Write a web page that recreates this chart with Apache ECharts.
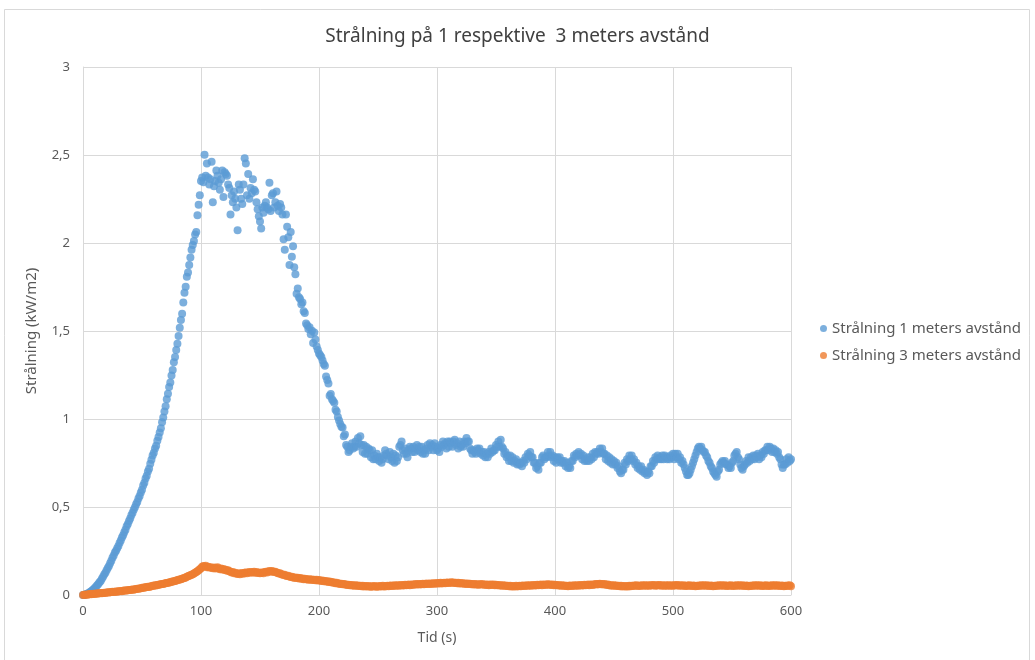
<!DOCTYPE html>
<html>
<head>
<meta charset="utf-8">
<script src="https://cdn.jsdelivr.net/npm/echarts@6/dist/echarts.min.js"></script>
<style>
  html, body { margin: 0; padding: 0; background: #ffffff; }
  #chart { width: 1035px; height: 660px; }
</style>
</head>
<body>
<div id="chart"></div>
<script>
// Radiation (kW/m2) sampled once per second, t = 0 .. 600 s
const timeStep = 1;

const straining1m = [
  0, 0, 0.003, 0.005, 0.009, 0.012, 0.017, 0.021, 0.027, 0.032,
  0.04, 0.047, 0.056, 0.063, 0.073, 0.08, 0.093, 0.103, 0.117, 0.127,
  0.14, 0.153, 0.165, 0.181, 0.194, 0.211, 0.224, 0.241, 0.251, 0.266,
  0.279, 0.296, 0.309, 0.326, 0.339, 0.356, 0.371, 0.391, 0.404, 0.421,
  0.434, 0.453, 0.467, 0.485, 0.499, 0.516, 0.529, 0.549, 0.563, 0.582,
  0.598, 0.622, 0.638, 0.662, 0.678, 0.702, 0.718, 0.746, 0.768, 0.792,
  0.808, 0.832, 0.848, 0.877, 0.898, 0.923, 0.948, 0.982, 1.008, 1.042,
  1.073, 1.112, 1.143, 1.182, 1.208, 1.247, 1.278, 1.322, 1.352, 1.392,
  1.428, 1.472, 1.518, 1.562, 1.598, 1.662, 1.718, 1.752, 1.808, 1.832,
  1.875, 1.918, 1.962, 1.988, 2.012, 2.048, 2.062, 2.158, 2.218, 2.272,
  2.352, 2.372, 2.345, 2.502, 2.382, 2.452, 2.372, 2.332, 2.362, 2.462,
  2.232, 2.322, 2.352, 2.412, 2.382, 2.342, 2.302, 2.362, 2.412, 2.262,
  2.402, 2.392, 2.382, 2.332, 2.312, 2.162, 2.272, 2.232, 2.292, 2.252,
  2.202, 2.072, 2.332, 2.302, 2.252, 2.222, 2.332, 2.482, 2.452, 2.272,
  2.392, 2.252, 2.312, 2.282, 2.362, 2.302, 2.292, 2.232, 2.192, 2.152,
  2.122, 2.082, 2.202, 2.172, 2.212, 2.232, 2.202, 2.192, 2.342, 2.182,
  2.272, 2.282, 2.202, 2.232, 2.292, 2.212, 2.182, 2.222, 2.202, 2.162,
  2.022, 1.962, 2.162, 2.092, 2.032, 1.875, 2.062, 1.922, 1.982, 1.862,
  1.822, 1.712, 1.742, 1.692, 1.682, 1.652, 1.662, 1.612, 1.602, 1.542,
  1.532, 1.512, 1.522, 1.482, 1.502, 1.432, 1.492, 1.452, 1.412, 1.392,
  1.372, 1.362, 1.352, 1.332, 1.312, 1.302, 1.242, 1.222, 1.202, 1.132,
  1.142, 1.112, 1.102, 1.092, 1.052, 1.042, 1.012, 0.992, 0.972, 0.956,
  0.952, 0.902, 0.912, 0.852, 0.842, 0.812, 0.822, 0.842, 0.862, 0.832,
  0.842, 0.872, 0.842, 0.892, 0.862, 0.902, 0.852, 0.812, 0.852, 0.802,
  0.842, 0.802, 0.832, 0.822, 0.782, 0.822, 0.772, 0.792, 0.772, 0.802,
  0.782, 0.762, 0.782, 0.752, 0.772, 0.792, 0.822, 0.802, 0.792, 0.772,
  0.812, 0.782, 0.762, 0.802, 0.752, 0.792, 0.762, 0.782, 0.842, 0.852,
  0.872, 0.822, 0.802, 0.832, 0.802, 0.782, 0.822, 0.842, 0.832, 0.812,
  0.842, 0.812, 0.832, 0.852, 0.822, 0.842, 0.812, 0.842, 0.802, 0.822,
  0.802, 0.832, 0.852, 0.822, 0.862, 0.842, 0.852, 0.822, 0.862, 0.842,
  0.822, 0.832, 0.812, 0.852, 0.842, 0.872, 0.852, 0.862, 0.832, 0.872,
  0.842, 0.872, 0.862, 0.842, 0.872, 0.882, 0.852, 0.862, 0.832, 0.872,
  0.842, 0.852, 0.842, 0.872, 0.862, 0.892, 0.872, 0.872, 0.832, 0.822,
  0.802, 0.822, 0.812, 0.802, 0.832, 0.822, 0.832, 0.802, 0.812, 0.792,
  0.812, 0.782, 0.802, 0.782, 0.812, 0.802, 0.832, 0.812, 0.822, 0.822,
  0.852, 0.842, 0.872, 0.842, 0.882, 0.842, 0.832, 0.802, 0.812, 0.782,
  0.792, 0.762, 0.792, 0.762, 0.782, 0.752, 0.762, 0.772, 0.742, 0.752,
  0.742, 0.752, 0.732, 0.762, 0.752, 0.782, 0.772, 0.802, 0.792, 0.812,
  0.782, 0.782, 0.752, 0.752, 0.722, 0.732, 0.712, 0.752, 0.752, 0.782,
  0.792, 0.772, 0.782, 0.782, 0.812, 0.792, 0.812, 0.782, 0.792, 0.762,
  0.782, 0.752, 0.782, 0.772, 0.782, 0.752, 0.762, 0.752, 0.762, 0.732,
  0.752, 0.722, 0.732, 0.722, 0.762, 0.762, 0.792, 0.782, 0.802, 0.792,
  0.812, 0.792, 0.802, 0.772, 0.792, 0.762, 0.772, 0.762, 0.782, 0.762,
  0.782, 0.772, 0.802, 0.782, 0.812, 0.802, 0.812, 0.802, 0.832, 0.812,
  0.832, 0.802, 0.802, 0.772, 0.792, 0.762, 0.782, 0.752, 0.772, 0.742,
  0.762, 0.742, 0.752, 0.722, 0.732, 0.702, 0.692, 0.712, 0.712, 0.752,
  0.742, 0.772, 0.762, 0.792, 0.772, 0.792, 0.762, 0.772, 0.742, 0.752,
  0.722, 0.732, 0.712, 0.732, 0.702, 0.712, 0.692, 0.702, 0.682, 0.702,
  0.692, 0.732, 0.732, 0.762, 0.752, 0.782, 0.772, 0.792, 0.772, 0.782,
  0.772, 0.792, 0.772, 0.792, 0.782, 0.772, 0.782, 0.772, 0.792, 0.782,
  0.802, 0.772, 0.802, 0.782, 0.802, 0.772, 0.782, 0.752, 0.762, 0.742,
  0.722, 0.702, 0.682, 0.682, 0.692, 0.712, 0.732, 0.752, 0.772, 0.792,
  0.812, 0.832, 0.842, 0.832, 0.842, 0.822, 0.812, 0.812, 0.792, 0.782,
  0.762, 0.752, 0.732, 0.722, 0.702, 0.692, 0.682, 0.672, 0.702, 0.712,
  0.742, 0.752, 0.762, 0.752, 0.762, 0.742, 0.742, 0.722, 0.732, 0.722,
  0.752, 0.762, 0.792, 0.802, 0.812, 0.782, 0.772, 0.742, 0.722, 0.712,
  0.732, 0.742, 0.762, 0.752, 0.782, 0.762, 0.782, 0.772, 0.792, 0.772,
  0.792, 0.782, 0.802, 0.772, 0.792, 0.782, 0.812, 0.802, 0.822, 0.822,
  0.842, 0.822, 0.842, 0.832, 0.812, 0.832, 0.812, 0.822, 0.802, 0.812,
  0.782, 0.772, 0.742, 0.722, 0.742, 0.742, 0.772, 0.752, 0.782, 0.762,
  0.772
];

const straining3m = [
  0.000, 0.002, 0.001, 0.003, 0.002, 0.004, 0.005, 0.004, 0.006, 0.007,
  0.006, 0.008, 0.009, 0.008, 0.010, 0.011, 0.010, 0.012, 0.013, 0.012,
  0.014, 0.015, 0.014, 0.016, 0.017, 0.018, 0.017, 0.019, 0.020, 0.019,
  0.021, 0.022, 0.023, 0.022, 0.024, 0.025, 0.026, 0.025, 0.027, 0.028,
  0.029, 0.030, 0.031, 0.030, 0.033, 0.034, 0.035, 0.036, 0.037, 0.039,
  0.040, 0.042, 0.041, 0.044, 0.045, 0.047, 0.046, 0.049, 0.050, 0.052,
  0.053, 0.055, 0.054, 0.057, 0.058, 0.060, 0.061, 0.063, 0.062, 0.065,
  0.067, 0.068, 0.070, 0.071, 0.073, 0.075, 0.076, 0.078, 0.080, 0.082,
  0.084, 0.086, 0.088, 0.090, 0.093, 0.095, 0.097, 0.100, 0.103, 0.106,
  0.109, 0.112, 0.115, 0.118, 0.122, 0.126, 0.130, 0.135, 0.140, 0.146,
  0.152, 0.160, 0.165, 0.162, 0.166, 0.158, 0.161, 0.156, 0.158, 0.155,
  0.152, 0.156, 0.150, 0.154, 0.158, 0.151, 0.147, 0.150, 0.145, 0.148,
  0.142, 0.144, 0.138, 0.140, 0.135, 0.132, 0.128, 0.130, 0.124, 0.126,
  0.122, 0.120, 0.124, 0.118, 0.122, 0.125, 0.121, 0.126, 0.128, 0.124,
  0.128, 0.130, 0.126, 0.131, 0.128, 0.132, 0.127, 0.130, 0.125, 0.128,
  0.124, 0.126, 0.128, 0.124, 0.130, 0.132, 0.128, 0.134, 0.136, 0.132,
  0.136, 0.134, 0.130, 0.132, 0.128, 0.125, 0.122, 0.124, 0.118, 0.116,
  0.113, 0.115, 0.110, 0.108, 0.110, 0.105, 0.102, 0.104, 0.100, 0.098,
  0.100, 0.096, 0.098, 0.094, 0.096, 0.092, 0.094, 0.090, 0.092, 0.089,
  0.090, 0.087, 0.089, 0.086, 0.088, 0.085, 0.087, 0.084, 0.086, 0.083,
  0.085, 0.082, 0.080, 0.082, 0.078, 0.080, 0.076, 0.078, 0.074, 0.076,
  0.072, 0.074, 0.070, 0.071, 0.067, 0.069, 0.065, 0.066, 0.063, 0.064,
  0.061, 0.062, 0.059, 0.060, 0.057, 0.058, 0.055, 0.057, 0.054, 0.055,
  0.053, 0.055, 0.052, 0.054, 0.051, 0.053, 0.050, 0.052, 0.049, 0.051,
  0.050, 0.048, 0.051, 0.049, 0.047, 0.050, 0.048, 0.051, 0.049, 0.047,
  0.050, 0.048, 0.051, 0.049, 0.052, 0.050, 0.048, 0.051, 0.053, 0.050,
  0.052, 0.054, 0.051, 0.053, 0.055, 0.052, 0.054, 0.056, 0.053, 0.055,
  0.057, 0.054, 0.056, 0.058, 0.055, 0.057, 0.059, 0.056, 0.058, 0.060,
  0.058, 0.060, 0.062, 0.059, 0.061, 0.063, 0.060, 0.062, 0.064, 0.061,
  0.063, 0.065, 0.062, 0.064, 0.066, 0.063, 0.065, 0.067, 0.064, 0.066,
  0.068, 0.065, 0.067, 0.069, 0.066, 0.068, 0.070, 0.067, 0.069, 0.071,
  0.068, 0.070, 0.072, 0.069, 0.071, 0.068, 0.070, 0.067, 0.069, 0.066,
  0.068, 0.065, 0.067, 0.064, 0.066, 0.063, 0.065, 0.062, 0.064, 0.061,
  0.063, 0.060, 0.062, 0.059, 0.061, 0.058, 0.060, 0.062, 0.059, 0.061,
  0.058, 0.060, 0.057, 0.059, 0.056, 0.058, 0.060, 0.057, 0.059, 0.056,
  0.058, 0.055, 0.057, 0.054, 0.056, 0.053, 0.055, 0.052, 0.054, 0.051,
  0.053, 0.050, 0.052, 0.049, 0.051, 0.048, 0.050, 0.052, 0.049, 0.051,
  0.053, 0.050, 0.052, 0.054, 0.051, 0.053, 0.055, 0.052, 0.054, 0.056,
  0.053, 0.055, 0.057, 0.054, 0.056, 0.058, 0.055, 0.057, 0.059, 0.056,
  0.058, 0.060, 0.057, 0.059, 0.061, 0.058, 0.060, 0.057, 0.059, 0.056,
  0.058, 0.055, 0.057, 0.054, 0.056, 0.053, 0.055, 0.052, 0.054, 0.051,
  0.053, 0.050, 0.052, 0.054, 0.051, 0.053, 0.055, 0.052, 0.054, 0.056,
  0.053, 0.055, 0.057, 0.054, 0.056, 0.058, 0.055, 0.057, 0.059, 0.056,
  0.058, 0.060, 0.057, 0.059, 0.061, 0.063, 0.060, 0.062, 0.064, 0.061,
  0.063, 0.060, 0.062, 0.059, 0.057, 0.059, 0.056, 0.054, 0.056, 0.053,
  0.055, 0.052, 0.054, 0.051, 0.053, 0.050, 0.052, 0.049, 0.051, 0.050,
  0.048, 0.051, 0.049, 0.052, 0.050, 0.053, 0.051, 0.054, 0.052, 0.055,
  0.053, 0.051, 0.054, 0.052, 0.055, 0.053, 0.056, 0.054, 0.052, 0.055,
  0.053, 0.056, 0.054, 0.057, 0.055, 0.053, 0.056, 0.054, 0.057, 0.055,
  0.053, 0.056, 0.054, 0.052, 0.055, 0.053, 0.056, 0.054, 0.052, 0.055,
  0.053, 0.056, 0.054, 0.057, 0.055, 0.053, 0.056, 0.054, 0.052, 0.055,
  0.053, 0.051, 0.054, 0.052, 0.055, 0.053, 0.051, 0.054, 0.052, 0.050,
  0.053, 0.051, 0.054, 0.052, 0.055, 0.053, 0.056, 0.054, 0.052, 0.055,
  0.053, 0.051, 0.054, 0.052, 0.050, 0.053, 0.051, 0.054, 0.052, 0.055,
  0.053, 0.056, 0.054, 0.052, 0.055, 0.053, 0.051, 0.054, 0.052, 0.055,
  0.053, 0.051, 0.054, 0.052, 0.055, 0.053, 0.056, 0.054, 0.052, 0.055,
  0.053, 0.051, 0.054, 0.052, 0.050, 0.053, 0.051, 0.054, 0.052, 0.055,
  0.053, 0.056, 0.054, 0.052, 0.055, 0.053, 0.051, 0.054, 0.052, 0.055,
  0.053, 0.051, 0.054, 0.052, 0.055, 0.053, 0.056, 0.054, 0.052, 0.055,
  0.053, 0.051, 0.054, 0.052, 0.050, 0.053, 0.051, 0.054, 0.052, 0.055,
  0.050
];

const seriesNames = ['Strålning 1 meters avstånd', 'Strålning 3 meters avstånd'];
const seriesColors = ['#5b9bd5', '#ed7d31'];
const chartTitle = 'Strålning på 1 respektive  3 meters avstånd';
const xAxisName = 'Tid (s)';
const yAxisName = 'Strålning (kW/m2)';

const toPoints = arr => arr.map((v, i) => [i * timeStep, v]);

const font = '"Noto Sans", "DejaVu Sans", sans-serif';
const textGrey = '#595959';
const gridGrey = '#d9d9d9';

const chart = echarts.init(document.getElementById('chart'), null, { renderer: 'canvas' });

chart.setOption({
  backgroundColor: '#ffffff',
  animation: false,
  graphic: [{
    type: 'rect',
    shape: { x: 4.5, y: 9.5, width: 1025, height: 660 },
    style: { fill: 'none', stroke: gridGrey, lineWidth: 1 },
    silent: true
  }],
  title: {
    text: chartTitle,
    left: 'center',
    top: 22,
    textStyle: { fontFamily: font, fontSize: 19, fontWeight: 'normal', color: '#404040' }
  },
  legend: {
    orient: 'vertical',
    left: 815,
    top: 316,
    itemWidth: 7,
    itemHeight: 7,
    itemGap: 12,
    icon: 'circle',
    textStyle: { fontFamily: font, fontSize: 15, color: textGrey },
    data: seriesNames
  },
  grid: { left: 83, right: 244, top: 67, bottom: 65, containLabel: false },
  xAxis: {
    type: 'value',
    min: 0,
    max: 600,
    interval: 100,
    name: xAxisName,
    nameLocation: 'middle',
    nameGap: 36,
    nameTextStyle: { fontFamily: font, fontSize: 14, color: textGrey },
    axisLine: { show: true, lineStyle: { color: gridGrey } },
    axisTick: { show: false },
    axisLabel: { fontFamily: font, fontSize: 13, color: textGrey, margin: 10 },
    splitLine: { show: true, lineStyle: { color: gridGrey } }
  },
  yAxis: {
    type: 'value',
    min: 0,
    max: 3,
    interval: 0.5,
    name: yAxisName,
    nameLocation: 'middle',
    nameGap: 44,
    nameRotate: 90,
    nameTextStyle: { fontFamily: font, fontSize: 15, color: textGrey },
    axisLine: { show: true, lineStyle: { color: gridGrey } },
    axisTick: { show: false },
    axisLabel: {
      fontFamily: font, fontSize: 13, color: textGrey, margin: 13,
      formatter: v => String(v).replace('.', ',')
    },
    splitLine: { show: true, lineStyle: { color: gridGrey } }
  },
  series: [
    {
      name: seriesNames[0],
      type: 'scatter',
      symbol: 'circle',
      symbolSize: 8,
      itemStyle: { color: seriesColors[0] },
      data: toPoints(straining1m)
    },
    {
      name: seriesNames[1],
      type: 'scatter',
      symbol: 'circle',
      symbolSize: 8,
      itemStyle: { color: seriesColors[1] },
      data: toPoints(straining3m)
    }
  ]
});
</script>
</body>
</html>
